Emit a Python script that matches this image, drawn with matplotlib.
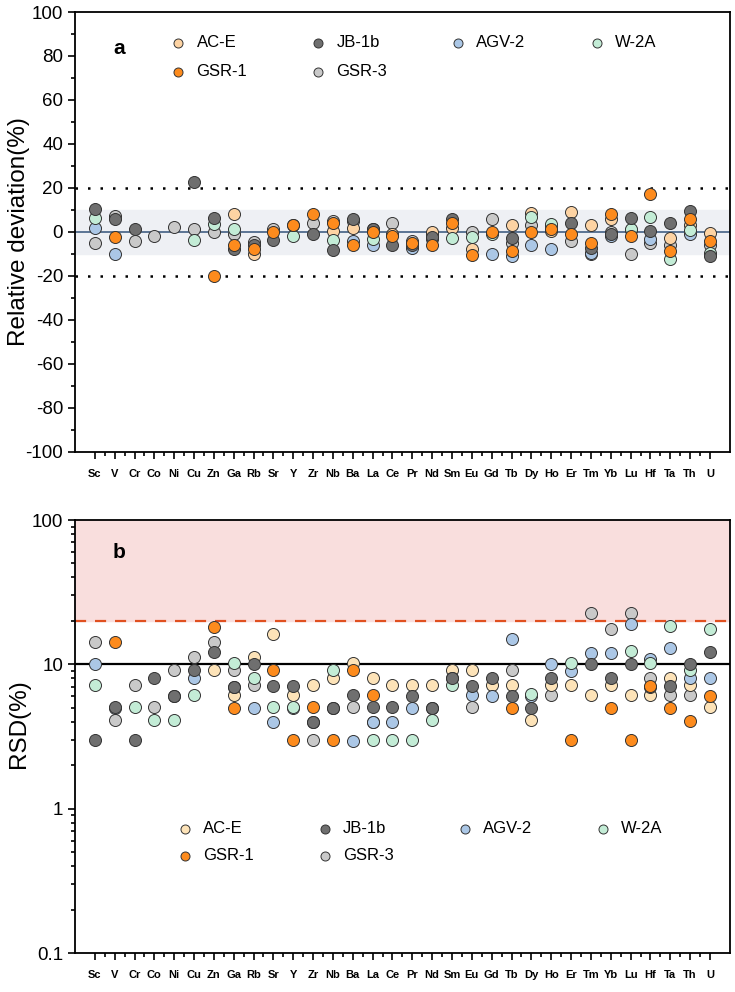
import numpy as np
import matplotlib
matplotlib.use('Agg')
import matplotlib.pyplot as plt
from matplotlib.ticker import FixedLocator, FuncFormatter, MultipleLocator, LogLocator, NullFormatter

plt.rcParams['font.family'] = ['Liberation Sans', 'DejaVu Sans']
plt.rcParams['axes.unicode_minus'] = False

elements = ['Sc', 'V', 'Cr', 'Co', 'Ni', 'Cu', 'Zn', 'Ga', 'Rb', 'Sr', 'Y', 'Zr', 'Nb', 'Ba', 'La', 'Ce',
            'Pr', 'Nd', 'Sm', 'Eu', 'Gd', 'Tb', 'Dy', 'Ho', 'Er', 'Tm', 'Yb', 'Lu', 'Hf', 'Ta', 'Th', 'U']
samples = ['AC-E', 'JB-1b', 'AGV-2', 'W-2A', 'GSR-1', 'GSR-3']
n = np.nan

# panel a: relative deviation (%)
dev_ace = [n, n, n, n, n, n, n, 8.0, -10.2, n, n, n, 0.3, 1.8, n, -1.0,
           n, 0.0, 1.8, -7.6, n, 3.0, 8.6, 0.5, 9.1, 3.0, 5.8, 1.0, n, -2.7, 3.0, -0.5]
dev_jb1b = [10.6, 5.8, 1.2, n, n, 22.5, 6.5, -7.9, -6.0, -3.8, 3.0, -0.8, -8.3, 5.8, 1.5, -5.8,
            -6.0, -2.3, 5.8, n, n, -2.6, n, n, 4.2, -7.3, -1.0, 6.4, 0.3, 4.2, 9.4, -10.9]
dev_agv2 = [2.0, -9.8, n, n, n, n, n, n, n, n, n, n, n, -4.0, -6.0, n,
            -7.3, -3.0, n, n, -9.8, -11.1, -5.8, -7.9, n, -9.5, -1.8, n, -3.0, n, -0.8, n]
dev_w2a = [6.4, n, n, n, n, -3.8, 3.8, 1.5, n, n, -2.0, n, -3.5, n, -3.0, n,
           n, n, -2.6, -2.3, -1.0, n, 6.8, 3.8, n, n, n, 1.5, 6.8, -12.4, 0.8, -9.4]
dev_gsr1 = [n, -2.3, n, n, n, n, -20.1, -5.8, -7.9, 0.0, 3.0, 8.3, 4.1, -5.8, 0.0, -2.0,
            -5.0, -5.8, 4.1, -10.6, 0.0, -8.8, 0.0, 1.2, -1.1, -4.8, 8.3, -2.0, 17.1, -8.8, 6.1, -4.1]
dev_gsr3 = [-4.9, 7.3, -3.9, -2.0, 2.1, 1.2, 0.0, -1.1, -4.5, 1.2, n, 4.1, 5.0, 4.8, 1.5, 4.1,
            -4.0, -1.0, n, 0.0, 6.1, -4.8, 3.3, 2.5, -4.1, -9.8, 0.0, -9.8, -4.8, -6.0, n, -6.0]

# panel b: RSD (%)
rsd_ace = [n, n, n, n, n, n, 9.1, 6.1, 11.3, 16.3, 6.1, 7.2, 8.1, 10.2, 8.1, 7.2,
           7.2, 7.2, 9.2, 9.2, 7.2, 7.2, 4.1, 7.2, 7.2, 6.1, 7.2, 6.1, 6.1, 8.1, 7.2, 5.1]
rsd_jb1b = [3.0, 5.1, 3.0, 8.0, 6.0, 9.2, 12.1, 7.0, 10.0, 7.1, 7.1, 4.0, 5.0, 6.1, 5.1, 5.1,
            6.0, 5.0, 8.0, 7.1, 8.1, 6.0, 5.0, 8.1, n, 10.0, 8.1, 10.0, 7.0, 7.1, 10.0, 12.2]
rsd_agv2 = [10.0, 5.0, n, n, 6.0, 8.0, n, 7.0, 4.96, 4.0, 5.0, 4.0, 5.0, 2.96, 4.0, 4.0,
            5.0, 5.0, 8.0, 6.1, 6.0, 15.0, 6.0, 10.0, 9.0, 11.9, 11.9, 18.9, 10.9, 12.9, 8.0, 8.0]
rsd_w2a = [7.2, n, 5.1, 4.1, 4.1, 6.1, n, 10.2, 8.1, 5.1, 5.1, n, 9.2, n, 3.0, 3.0,
           3.0, 4.1, 7.2, n, n, n, 6.2, n, 10.2, n, n, 12.4, 10.2, 18.4, 9.2, 17.5]
rsd_gsr1 = [n, 14.2, n, n, n, n, 18.1, 5.0, n, 9.1, 3.0, 5.1, 3.0, 9.1, 6.1, n,
            n, n, n, n, n, 5.0, n, n, 3.0, n, 5.0, 3.0, 7.1, 5.0, 4.05, 6.0]
rsd_gsr3 = [14.3, 4.1, 7.2, 5.1, 9.2, 11.3, 14.3, 9.1, 7.2, n, n, 3.0, n, 5.1, 4.0, n,
            n, n, n, 5.1, n, 9.2, n, 6.1, n, 22.6, 17.5, 22.6, 8.1, 6.1, 6.1, n]

colors = ['#fdd3a3', '#6f6f6f', '#abc7e6', '#c3ecd6', '#fd8b1d', '#c9c9c9']
colors_b = ['#fde3b8', '#6f6f6f', '#abc7e6', '#c3ecd6', '#fd8b1d', '#c9c9c9']
dev_data = [dev_ace, dev_jb1b, dev_agv2, dev_w2a, dev_gsr1, dev_gsr3]
rsd_data = [rsd_ace, rsd_jb1b, rsd_agv2, rsd_w2a, rsd_gsr1, rsd_gsr3]
# draw order so the overlaps look like the original
draw_order = [5, 0, 2, 3, 1, 4]
legend_order = [0, 4, 1, 5, 2, 3]

x = np.arange(1, len(elements) + 1)

fig = plt.figure(figsize=(7.35, 9.92), dpi=100)
ax1 = fig.add_axes([0.102, 0.5444, 0.891, 0.4435])
ax2 = fig.add_axes([0.102, 0.0393, 0.891, 0.4365])


def style_x(ax):
    ax.set_xlim(0, len(elements) + 1)
    ax.xaxis.set_major_locator(FixedLocator(x))
    ax.xaxis.set_minor_locator(FixedLocator(x[:-1] + 0.5))
    ax.set_xticklabels(elements, fontsize=8, fontweight='bold',
                       family=['Liberation Sans Narrow', 'Liberation Sans'])
    ax.tick_params(axis='x', which='major', length=5, width=1.2, pad=7)
    ax.tick_params(axis='x', which='minor', length=3, width=1.2)
    ax.tick_params(axis='y', which='major', length=5, width=1.2, labelsize=13.5)
    ax.tick_params(axis='y', which='minor', length=3, width=1.2)
    for s in ax.spines.values():
        s.set_linewidth(1.3)


# ---- panel a
handles = []
ax1.axhspan(-10, 10, color='#eef0f4', zorder=0)
ax1.axhline(0, color='#4f6a8c', lw=1.3, zorder=1)
ax1.axhline(20, color='black', lw=1.8, ls=(0, (1, 4)), zorder=1)
ax1.axhline(-20, color='black', lw=1.8, ls=(0, (1, 4)), zorder=1)
for k in draw_order:
    h = ax1.scatter(x, dev_data[k], s=75, c=colors[k], edgecolors='#333333',
                    linewidths=0.7, zorder=3 + draw_order.index(k), label=samples[k])
    handles.append((k, h))
hd = dict(handles)
ax1.set_ylim(-100, 100)
ax1.yaxis.set_major_locator(MultipleLocator(20))
ax1.yaxis.set_minor_locator(MultipleLocator(10))
ax1.set_ylabel('Relative deviation(%)', fontsize=17.5)
style_x(ax1)
ax1.yaxis.set_label_coords(-0.069, 0.5)
ax1.text(0.058, 0.918, 'a', transform=ax1.transAxes, fontsize=15, fontweight='bold', va='center')
ax1.legend([hd[k] for k in legend_order], [samples[k] for k in legend_order], ncol=4,
           loc='upper left', bbox_to_anchor=(0.145, 0.948), frameon=False, borderpad=0,
           borderaxespad=0, fontsize=12, handletextpad=0.6, columnspacing=3.75,
           labelspacing=0.85, markerscale=0.75, handlelength=1.0)

# ---- panel b
handles = []
ax2.axhspan(20, 100, color='#f9dedd', zorder=0)
ax2.axhline(20, color='#e05020', lw=1.6, ls=(0, (5, 4)), zorder=1)
ax2.axhline(10, color='black', lw=1.6, zorder=1)
for k in draw_order:
    h = ax2.scatter(x, rsd_data[k], s=75, c=colors_b[k], edgecolors='#333333',
                    linewidths=0.7, zorder=3 + draw_order.index(k), label=samples[k])
    handles.append((k, h))
hd = dict(handles)
ax2.set_yscale('log')
ax2.set_ylim(0.1, 100)
ax2.yaxis.set_major_locator(LogLocator(base=10))
ax2.yaxis.set_minor_locator(LogLocator(base=10, subs=np.arange(2, 10)))
ax2.yaxis.set_minor_formatter(NullFormatter())
ax2.yaxis.set_major_formatter(FuncFormatter(lambda v, p: '%g' % v))
ax2.set_ylabel('RSD(%)', fontsize=17.5)
style_x(ax2)
ax2.yaxis.set_label_coords(-0.069, 0.53)
ax2.text(0.058, 0.924, 'b', transform=ax2.transAxes, fontsize=15, fontweight='bold', va='center')
ax2.legend([hd[k] for k in legend_order], [samples[k] for k in legend_order], ncol=4,
           loc='upper left', bbox_to_anchor=(0.155, 0.304), frameon=False, borderpad=0,
           borderaxespad=0, fontsize=12, handletextpad=0.6, columnspacing=3.75,
           labelspacing=0.7, markerscale=0.75, handlelength=1.0)

fig.savefig('out.png', dpi=100)
